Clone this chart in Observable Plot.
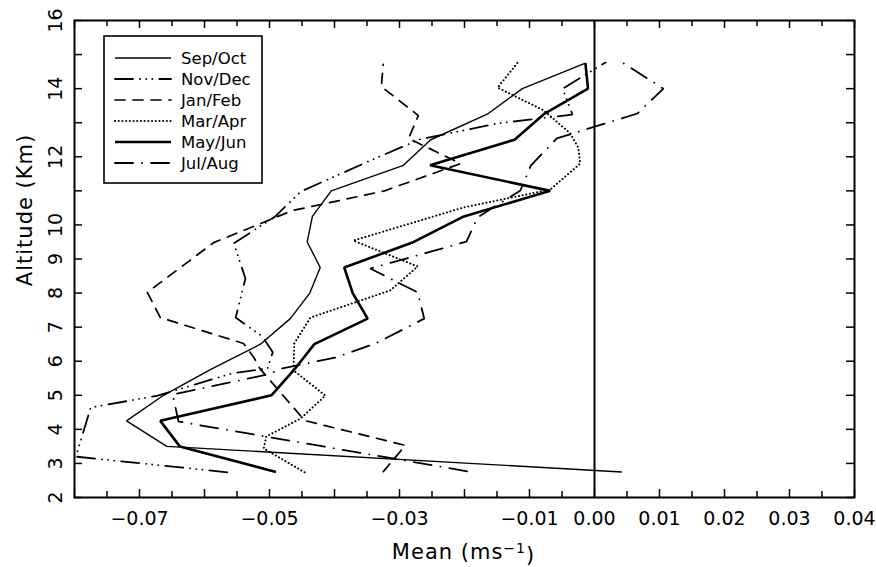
<!DOCTYPE html>
<html><head><meta charset="utf-8">
<script src="https://cdn.jsdelivr.net/npm/d3@7"></script>
<script src="https://cdn.jsdelivr.net/npm/@observablehq/plot@0.6"></script>
<style>
body{margin:0;background:#fff}
#chart{width:876px;height:567px}
</style>
</head><body><div id="chart"></div>
<script>
// ---------- data (mean wind in m/s, altitude in km) ----------
const levels = [2.75,3.5,4.25,5,5.75,6.5,7.25,8,8.75,9.5,10.25,11,11.75,12.5,13.25,14,14.75];
const sepOct = [0.0042,-0.0658,-0.0720,-0.0663,-0.0591,-0.0514,-0.0468,-0.0438,-0.0422,-0.0442,-0.0434,-0.0405,-0.0294,-0.0252,-0.0165,-0.0111,-0.0014];
const mayJun = [-0.0490,-0.0638,-0.0668,-0.0497,-0.0462,-0.0431,-0.0349,-0.0372,-0.0385,-0.0278,-0.0201,-0.0068,-0.0253,-0.0123,-0.0078,-0.0010,-0.0014];

const marAprAlt = [2.74,3.44,3.79,4.32,4.99,5.73,6.52,7.28,8.08,8.78,9.54,10.51,11.04,11.80,12.27,12.68,13.36,14.03,14.77];
const marApr    = [-0.0446,-0.0509,-0.0505,-0.0452,-0.0414,-0.0463,-0.0462,-0.0437,-0.0314,-0.0272,-0.0371,-0.0202,-0.0068,-0.0022,-0.0025,-0.0037,-0.0078,-0.0149,-0.0118];

const janFebAlt = [2.76,3.53,4.26,5.79,6.08,6.52,7.28,8.02,9.48,10.42,11.0,11.80,12.54,13.21,14.06,14.71];
const janFeb    = [-0.0325,-0.0291,-0.0446,-0.0515,-0.0523,-0.0540,-0.0668,-0.0688,-0.0586,-0.0465,-0.0323,-0.0206,-0.0286,-0.0271,-0.0328,-0.0325];

const julAugAlt = [2.77,4.23,5.02,5.61,5.79,6.11,6.52,7.25,8.02,8.72,9.51,10.22,11.01,11.74,12.54,13.27,14.0,14.80];
const julAug    = [-0.0196,-0.0640,-0.0649,-0.0503,-0.0480,-0.0398,-0.0337,-0.0262,-0.0272,-0.0345,-0.0197,-0.0180,-0.0114,-0.0098,-0.0058,0.0066,0.0106,0.0040];

const novDecAlt = [2.74,3.20,4.64,4.99,5.64,5.79,6.26,6.73,7.28,8.43,9.46,10.25,10.98,11.98,12.51,12.98,13.24,14.0,14.77];
const novDec    = [-0.0565,-0.0798,-0.0775,-0.0672,-0.0558,-0.0503,-0.0495,-0.0511,-0.0552,-0.0537,-0.0555,-0.0491,-0.0452,-0.0334,-0.0269,-0.0149,-0.0034,-0.0049,0.0017];

const xTickLabels = [-0.07,-0.05,-0.03,-0.01,0.00,0.01,0.02,0.03,0.04];
const yTickLabels = [2,3,4,5,6,7,8,9,10,12,14,16];
const yTicks = [2,3,4,5,6,7,8,9,10,11,12,13,14,15,16];

// ---------- styles per series ----------
const series = [
  {name:"Sep/Oct", alt:levels,    mean:sepOct, dash:null,                    width:1.4},
  {name:"Nov/Dec", alt:novDecAlt, mean:novDec, dash:"18 7 0.1 6 0.1 6 0.1 7", width:1.8},
  {name:"Jan/Feb", alt:janFebAlt, mean:janFeb, dash:"10 8",                   width:1.7},
  {name:"Mar/Apr", alt:marAprAlt, mean:marApr, dash:"0.1 3.6",                width:2.0},
  {name:"May/Jun", alt:levels,    mean:mayJun, dash:null,                    width:2.6},
  {name:"Jul/Aug", alt:julAugAlt, mean:julAug, dash:"18 9 0.1 9",             width:1.8}
];

const W = 876, H = 567, mL = 74, mR = 22, mT = 20, mB = 70;
const plotW = W - mL - mR, plotH = H - mT - mB;
const font = "'DejaVu Sans', 'Liberation Sans', Arial, sans-serif";

const xMinor = d3.range(-80, 41, 5).filter(d => d % 10 !== 0).map(d => d / 1000);
const xMajor = d3.range(-80, 41, 10).map(d => d / 1000);

const lineMarks = series.map(s => Plot.line(
  s.alt.map((a, i) => ({alt: a, mean: s.mean[i]})),
  {x: "mean", y: "alt", stroke: "#000", strokeWidth: s.width,
   strokeDasharray: s.dash ?? undefined,
   strokeLinecap: s.dash ? "round" : "butt", strokeLinejoin: "miter"}
));

const fmt = d3.format(".2f");

const svg = Plot.plot({
  width: W, height: H,
  marginLeft: mL, marginRight: mR, marginTop: mT, marginBottom: mB,
  style: {fontFamily: font, fontSize: "19px", background: "#fff", color: "#000"},
  x: {domain: [-0.08, 0.04], axis: null},
  y: {domain: [2, 16], axis: null},
  marks: [
    // ticks (inward, all four sides)
    Plot.tickX(xMinor, {x: d => d, insetTop: plotH - 6, strokeWidth: 1.5}),
    Plot.tickX(xMajor, {x: d => d, insetTop: plotH - 8, strokeWidth: 1.5}),
    Plot.tickX(xMinor, {x: d => d, insetBottom: plotH - 6, strokeWidth: 1.5}),
    Plot.tickX(xMajor, {x: d => d, insetBottom: plotH - 8, strokeWidth: 1.5}),
    Plot.tickY(yTicks, {y: d => d, insetRight: plotW - 8, strokeWidth: 1.5}),
    Plot.tickY(yTicks, {y: d => d, insetLeft: plotW - 8, strokeWidth: 1.5}),
    ...lineMarks,
    Plot.ruleX([0], {strokeWidth: 2}),
    Plot.frame({stroke: "#000", strokeWidth: 2}),
    // tick labels
    Plot.text(xTickLabels, {x: d => d, text: d => fmt(d), frameAnchor: "bottom", dy: 21,
      lineAnchor: "middle", fontSize: 19, fill: "#000"}),
    Plot.text(yTickLabels, {y: d => d, text: d => String(d), frameAnchor: "left", dx: -19,
      rotate: -90, textAnchor: "middle", lineAnchor: "middle", fontSize: 19, fill: "#000"}),
    // axis titles
    Plot.text(["Altitude (Km)"], {frameAnchor: "left", dx: -49, dy: -49, rotate: -90,
      textAnchor: "middle", lineAnchor: "middle", fontSize: 21, fill: "#000"}),
    Plot.text(["Mean (ms-1)"], {frameAnchor: "bottom", dx: -1, dy: 55,
      textAnchor: "middle", lineAnchor: "middle", fontSize: 21, fill: "#000"})
  ]
});

// spacing and superscript for the axis titles
d3.select(svg).selectAll("text").each(function() {
  if (this.textContent === "Altitude (Km)") d3.select(this).attr("letter-spacing", "1px");
  if (this.textContent === "Mean (ms-1)") {
    const t = d3.select(this).attr("letter-spacing", "1px");
    t.text(null);
    t.append("tspan").text("Mean (ms");
    t.append("tspan").attr("dy", "-0.45em").attr("font-size", "14px").text("\u22121");
    t.append("tspan").attr("dy", "0.45em").text(")");
  }
});

// legend box
const lg = d3.select(svg).append("g").attr("font-family", font).attr("font-size", 16.5)
  .attr("text-anchor", "start");
lg.append("rect").attr("x", 104).attr("y", 36).attr("width", 158).attr("height", 147)
  .attr("fill", "#fff").attr("stroke", "#000").attr("stroke-width", 1.6);
series.forEach((s, i) => {
  const y = 58 + i * 21;
  lg.append("line").attr("x1", 115).attr("x2", 171).attr("y1", y).attr("y2", y)
    .attr("stroke", "#000").attr("stroke-width", s.width)
    .attr("stroke-dasharray", s.dash)
    .attr("stroke-linecap", s.dash ? "round" : "butt");
  lg.append("text").attr("x", 181).attr("y", y).attr("dy", "0.36em").attr("fill", "#000")
    .attr("text-anchor", "start").text(s.name);
});

document.getElementById("chart").appendChild(svg);
</script>
</body></html>
